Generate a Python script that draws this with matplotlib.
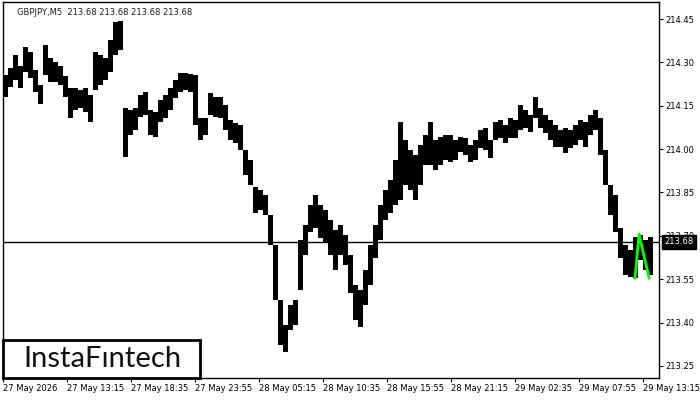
import matplotlib.pyplot as plt
from matplotlib.patches import Rectangle
import numpy as np

# GBPJPY M5, aggregated into blocks of 5 bars (high / low of each block)
bar_step = 5
highs = [214.256, 214.281, 214.326, 214.288, 214.353, 214.336, 214.274, 214.222, 214.360, 214.315,
         214.301, 214.288, 214.253, 214.211, 214.211, 214.204, 214.211, 214.187, 214.336, 214.326,
         214.315, 214.378, 214.440, 214.443, 214.142, 214.135, 214.142, 214.187, 214.198, 214.135,
         214.128, 214.170, 214.187, 214.211, 214.239, 214.263, 214.263, 214.260, 214.256, 214.108,
         214.108, 214.194, 214.180, 214.180, 214.153, 214.101, 214.090, 214.083, 213.997, 213.962,
         213.869, 213.858, 213.841, 213.772, 213.668, 213.478, 213.391, 213.460, 213.478, 213.685,
         213.737, 213.806, 213.841, 213.806, 213.789, 213.755, 213.720, 213.737, 213.703, 213.633,
         213.530, 213.512, 213.582, 213.668, 213.737, 213.806, 213.858, 213.893, 213.962, 214.094,
         214.031, 213.997, 213.980, 214.014, 214.049, 214.094, 214.031, 214.042, 214.049, 214.049,
         214.031, 214.042, 214.038, 214.014, 214.031, 214.066, 214.073, 214.031, 214.094, 214.101,
         214.083, 214.108, 214.101, 214.153, 214.135, 214.118, 214.180, 214.142, 214.118, 214.101,
         214.083, 214.066, 214.073, 214.066, 214.083, 214.101, 214.094, 214.118, 214.135, 214.108,
         213.997, 213.876, 213.841, 213.727, 213.668, 213.651, 213.696, 213.703, 213.685, 213.696]
lows = [214.180, 214.215, 214.239, 214.211, 214.267, 214.246, 214.198, 214.156, 214.256, 214.232,
        214.232, 214.222, 214.180, 214.108, 214.135, 214.142, 214.128, 214.094, 214.204, 214.222,
        214.239, 214.267, 214.326, 214.343, 213.973, 214.049, 214.066, 214.111, 214.118, 214.049,
        214.042, 214.094, 214.108, 214.135, 214.177, 214.198, 214.204, 214.198, 214.083, 214.031,
        214.049, 214.118, 214.111, 214.108, 214.066, 214.031, 214.021, 213.997, 213.910, 213.876,
        213.779, 213.789, 213.772, 213.668, 213.478, 213.322, 213.298, 213.374, 213.391, 213.512,
        213.633, 213.713, 213.727, 213.692, 213.678, 213.633, 213.582, 213.633, 213.599, 213.502,
        213.408, 213.384, 213.460, 213.530, 213.623, 213.685, 213.755, 213.779, 213.806, 213.824,
        213.876, 213.858, 213.824, 213.876, 213.945, 213.945, 213.928, 213.945, 213.962, 213.955,
        213.962, 213.990, 213.980, 213.955, 213.962, 214.004, 213.997, 213.969, 214.031, 214.038,
        214.021, 214.038, 214.038, 214.066, 214.073, 214.059, 214.108, 214.073, 214.056, 214.031,
        214.007, 214.007, 213.986, 214.004, 214.014, 214.031, 214.007, 214.049, 214.066, 213.980,
        213.876, 213.772, 213.713, 213.623, 213.564, 213.557, 213.554, 213.616, 213.582, 213.564]
last_price = 213.68

# pattern (green) : bar index, price
pattern_x = [632, 636, 646]
pattern_y = [213.554, 213.706, 213.554]

x_ticks = [0, 64, 128, 192, 256, 320, 384, 448, 512, 576, 640]
x_labels = ['27 May 2026', '27 May 13:15', '27 May 18:35', '27 May 23:55', '28 May 05:15',
            '28 May 10:35', '28 May 15:55', '28 May 21:15', '29 May 02:35', '29 May 07:55',
            '29 May 13:15']
y_ticks = [213.25, 213.40, 213.55, 213.70, 213.85, 214.00, 214.15, 214.30, 214.45]

fig = plt.figure(figsize=(7, 4), dpi=100)
ax = fig.add_axes([3 / 700, 1 - 378 / 400, 656 / 700, 376 / 400])

xs = np.arange(len(highs)) * bar_step
edges = np.append(xs, xs[-1] + bar_step)
ax.stairs(highs, edges, baseline=lows, fill=True, color='black', lw=0.6)

ax.axhline(last_price, color='black', lw=1, zorder=1)
ax.plot(pattern_x, pattern_y, color='#00ff00', lw=2, zorder=5)

ax.set_xlim(0, 656)
ax.set_ylim(213.208, 214.509)

ax.set_xticks(x_ticks)
ax.set_xticklabels(x_labels, ha='left', fontsize=6)
ax.yaxis.tick_right()
ax.set_yticks(y_ticks)
ax.set_yticklabels([f'{v:.2f}' for v in y_ticks], fontsize=6)
ax.tick_params(length=3, width=0.8, pad=1.5, colors='black')
for s in ax.spines.values():
    s.set_linewidth(1)

# current price box on the axis
ax.annotate(f'{last_price:.2f}', xy=(1.0, last_price), xycoords=('axes fraction', 'data'),
            xytext=(4, 0), textcoords='offset points', va='center', ha='left',
            fontsize=6, color='white', zorder=10,
            bbox=dict(boxstyle='square,pad=0.3', fc='black', ec='black'))

ax.text(0.022, 0.985, 'GBPJPY,M5  213.68 213.68 213.68 213.68', transform=ax.transAxes,
        fontsize=6, va='top', ha='left', color='#1a1a1a')

# logo box
ax.add_patch(Rectangle((0, 0), 197 / 656, 38 / 376, transform=ax.transAxes,
                       fc='white', ec='black', lw=2, zorder=6, clip_on=False))
ax.text(99 / 656, 19 / 376, 'InstaFıntech', transform=ax.transAxes, fontsize=21,
        family='Lato', va='center', ha='center', color='#111111', zorder=7)

fig.savefig('out.png', dpi=100)
